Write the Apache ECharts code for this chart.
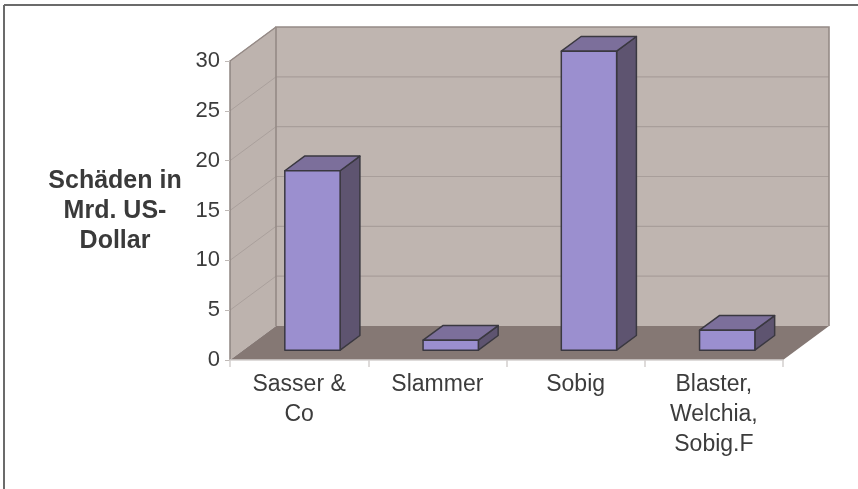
<!DOCTYPE html>
<html>
<head>
<meta charset="utf-8">
<script src="https://cdn.jsdelivr.net/npm/echarts@6/dist/echarts.min.js"></script>
<style>
  html, body { margin: 0; padding: 0; background: #ffffff; }
  #chart { width: 858px; height: 489px; }
</style>
</head>
<body>
<div id="chart"></div>
<script>
// Worm damages (billion US dollars)
const categories = ['Sasser &\nCo', 'Slammer', 'Sobig', 'Blaster,\nWelchia,\nSobig.F'];
const damages = [18, 1, 30, 2];
const yTickValues = [0, 5, 10, 15, 20, 25, 30];
const yAxisTitle = 'Schäden in\nMrd. US-\nDollar';

// 3D look: offset of the back wall relative to the front plane
const DEPTH = { dx: 46, dy: -34 };
// bars occupy this slice of the floor depth
const BAR_DEPTH = [0.29, 0.72];
const BAR_WIDTH = 0.4; // share of a category band

const font = 'Liberation Sans, Arial, sans-serif';

const chart = echarts.init(document.getElementById('chart'), null, { renderer: 'canvas' });

function shift(p, d) {
  return [p[0] + DEPTH.dx * d, p[1] + DEPTH.dy * d];
}

// walls, floor and gridlines of the 3D box
function renderWalls(params, api) {
  const cs = params.coordSys;
  const xl = cs.x, xr = cs.x + cs.width;
  const y0 = api.coord([0, 0])[1];
  const yTop = api.coord([0, yTickValues[yTickValues.length - 1]])[1];
  const children = [];
  // side wall
  children.push({
    type: 'polygon',
    shape: { points: [[xl, y0], [xl, yTop], shift([xl, yTop], 1), shift([xl, y0], 1)] },
    style: { fill: '#bdb3ae', stroke: null }
  });
  // back wall
  const b0 = shift([xl, y0], 1), b1 = shift([xr, yTop], 1);
  children.push({
    type: 'rect',
    shape: { x: b0[0], y: b1[1], width: b1[0] - b0[0], height: b0[1] - b1[1] },
    style: { fill: '#bfb5b0', stroke: null }
  });
  // gridlines on back wall and side wall
  yTickValues.forEach(function (v) {
    if (v === 0) return;
    const y = api.coord([0, v])[1];
    const pl = shift([xl, y], 1), pr = shift([xr, y], 1);
    if (v !== yTickValues[yTickValues.length - 1]) {
      children.push({
        type: 'line',
        shape: { x1: pl[0], y1: pl[1], x2: pr[0], y2: pr[1] },
        style: { stroke: '#a89e9a', lineWidth: 1.2 }
      });
    }
    children.push({
      type: 'line',
      shape: { x1: xl, y1: y, x2: pl[0], y2: pl[1] },
      style: { stroke: '#aaa09c', lineWidth: 1 }
    });
  });
  // floor
  children.push({
    type: 'polygon',
    shape: { points: [[xl, y0], [xr, y0], shift([xr, y0], 1), shift([xl, y0], 1)] },
    style: { fill: '#857874', stroke: null }
  });
  // back wall outline (top, right) and left back edge
  const tl = shift([xl, yTop], 1), tr = shift([xr, yTop], 1), br = shift([xr, y0], 1), bl = shift([xl, y0], 1);
  children.push({
    type: 'polyline',
    shape: { points: [bl, tl, tr, br] },
    style: { stroke: '#958a86', lineWidth: 1.6, fill: null }
  });
  // top edge of the side wall
  children.push({
    type: 'line',
    shape: { x1: xl, y1: yTop, x2: tl[0], y2: tl[1] },
    style: { stroke: '#958a86', lineWidth: 1.4 }
  });
  return { type: 'group', children: children };
}

// one 3D column
function renderBar(params, api) {
  const idx = api.value(0);
  const val = api.value(1);
  const base = api.coord([idx, 0]);
  const top = api.coord([idx, val]);
  const w = api.size([1, 0])[0] * BAR_WIDTH;
  const x0 = base[0] - w / 2, x1 = base[0] + w / 2;
  const f = BAR_DEPTH[0], b = BAR_DEPTH[1];
  const fbl = shift([x0, base[1]], f), fbr = shift([x1, base[1]], f);
  const ftl = shift([x0, top[1]], f), ftr = shift([x1, top[1]], f);
  const btl = shift([x0, top[1]], b), btr = shift([x1, top[1]], b);
  const bbr = shift([x1, base[1]], b);
  const stroke = '#3a3840';
  return {
    type: 'group',
    children: [
      { type: 'polygon', shape: { points: [fbr, ftr, btr, bbr] },
        style: { fill: '#5e5470', stroke: stroke, lineWidth: 1.5, lineJoin: 'round' } },
      { type: 'polygon', shape: { points: [ftl, ftr, btr, btl] },
        style: { fill: '#7c6f9b', stroke: stroke, lineWidth: 1.5, lineJoin: 'round' } },
      { type: 'polygon', shape: { points: [fbl, fbr, ftr, ftl] },
        style: { fill: '#9b8fcf', stroke: stroke, lineWidth: 1.5, lineJoin: 'round' } }
    ]
  };
}

const option = {
  animation: false,
  backgroundColor: '#ffffff',
  grid: { left: 230, right: 75, top: 61, bottom: 129 },
  xAxis: {
    type: 'category',
    data: categories,
    boundaryGap: true,
    axisLine: { show: true, lineStyle: { color: '#d4d0ce', width: 1.5 } },
    axisTick: { show: true, length: 7, lineStyle: { color: '#d4d0ce', width: 1.5 } },
    axisLabel: {
      margin: 10, color: '#3c3c3c', fontFamily: font, fontSize: 23, lineHeight: 30,
      interval: 0
    },
    splitLine: { show: false },
    z: 5
  },
  yAxis: {
    type: 'value',
    min: 0, max: 30, interval: 5,
    axisLine: { show: true, lineStyle: { color: '#8e8480', width: 1.5 } },
    axisTick: { show: true, length: 5, lineStyle: { color: '#c0bab7', width: 1 } },
    axisLabel: { margin: 10, color: '#3c3c3c', fontFamily: font, fontSize: 22 },
    splitLine: { show: false },
    z: 5
  },
  graphic: [
    { type: 'line', shape: { x1: 4, y1: 5, x2: 858, y2: 5 }, style: { stroke: '#6b6b6b', lineWidth: 2 } },
    { type: 'line', shape: { x1: 4, y1: 5, x2: 4, y2: 489 }, style: { stroke: '#6b6b6b', lineWidth: 2 } },
    {
      type: 'text', x: 115, y: 211,
      style: {
        text: yAxisTitle, align: 'center', verticalAlign: 'middle',
        font: 'bold 25px ' + font, lineHeight: 30, fill: '#3a3a3a'
      }
    }
  ],
  series: [
    {
      type: 'custom',
      name: 'walls',
      renderItem: renderWalls,
      data: [[0, 0]],
      clip: false,
      silent: true,
      z: 1
    },
    {
      type: 'custom',
      name: 'Schäden',
      renderItem: renderBar,
      data: damages.map(function (v, i) { return [i, v]; }),
      encode: { x: 0, y: 1 },
      clip: false,
      z: 3
    }
  ]
};

chart.setOption(option);
</script>
</body>
</html>
